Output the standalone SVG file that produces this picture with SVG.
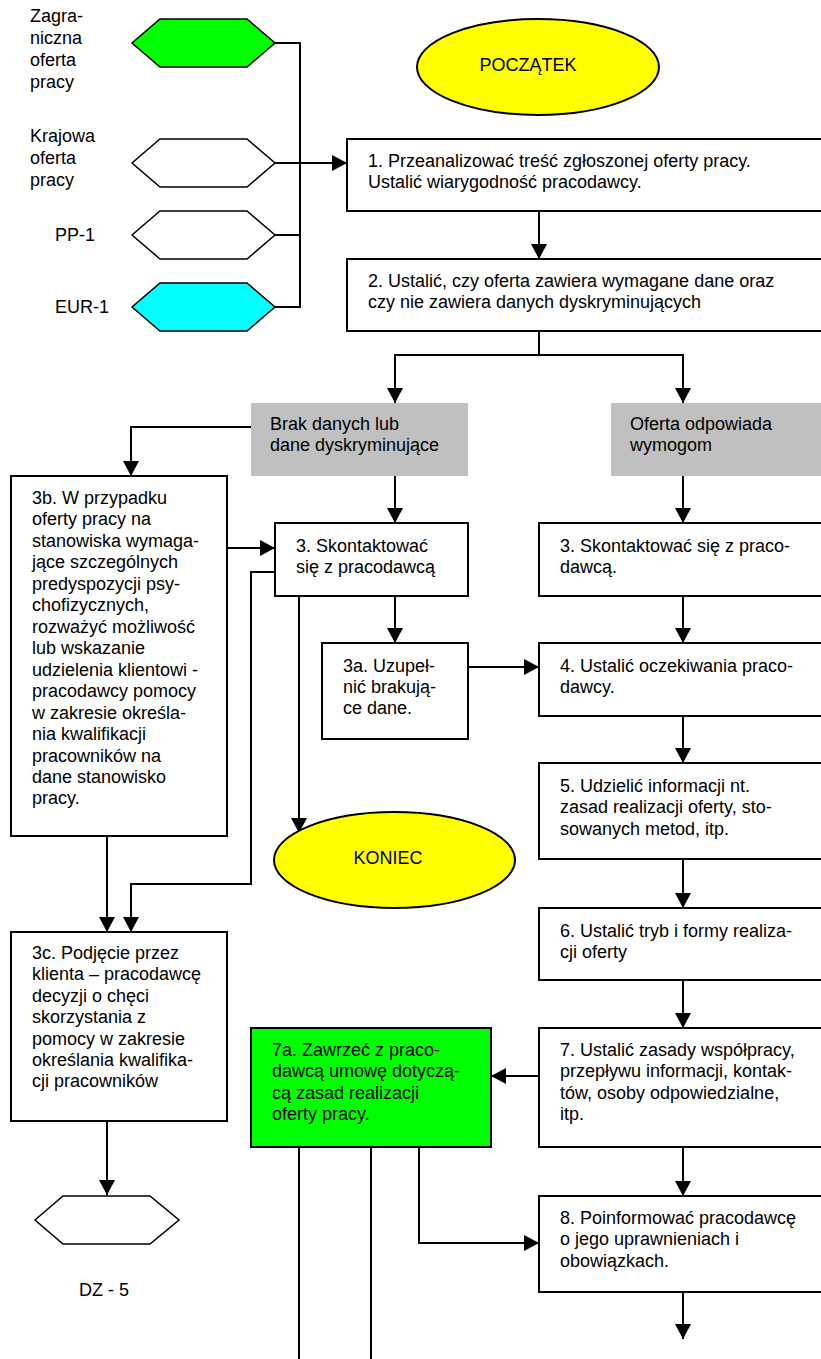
<svg xmlns="http://www.w3.org/2000/svg" width="821" height="1359" viewBox="0 0 821 1359">
<style>
text{font-family:"Liberation Sans",Arial,sans-serif;font-size:18px;fill:#000}
.box{fill:#fff;stroke:#000;stroke-width:2}
.gray{fill:#c0c0c0;stroke:none}
.hex{stroke:#000;stroke-width:1.5}
.ell{fill:#ffff00;stroke:#000;stroke-width:2}
.c{fill:none;stroke:#000;stroke-width:2}
.mid{text-anchor:middle}
</style>
<defs>
<marker id="a" markerUnits="userSpaceOnUse" markerWidth="15" markerHeight="16" refX="15" refY="8" orient="auto">
<path d="M0,0 L15,8 L0,16 z" fill="#000"/>
</marker>
</defs>
<rect width="821" height="1359" fill="#fff"/>

<g id="connectors">
<path class="c" d="M275,43 H300 V307 H275 M275,235 H300"/>
<path class="c" d="M275,163 H347" marker-end="url(#a)"/>
<path class="c" d="M539,211 V259" marker-end="url(#a)"/>
<path class="c" d="M539,331 V355 H395 V403" marker-end="url(#a)"/>
<path class="c" d="M539,355 H683 V403" marker-end="url(#a)"/>
<path class="c" d="M251,427 H131 V476" marker-end="url(#a)"/>
<path class="c" d="M395,476 V523" marker-end="url(#a)"/>
<path class="c" d="M227,548 H275" marker-end="url(#a)"/>
<path class="c" d="M275,572 H251 V884 H131 V932" marker-end="url(#a)"/>
<path class="c" d="M107,836 V932" marker-end="url(#a)"/>
<path class="c" d="M299,596 V833" marker-end="url(#a)"/>
<path class="c" d="M395,596 V643" marker-end="url(#a)"/>
<path class="c" d="M468,667 H539" marker-end="url(#a)"/>
<path class="c" d="M683,476 V523" marker-end="url(#a)"/>
<path class="c" d="M683,596 V643" marker-end="url(#a)"/>
<path class="c" d="M683,716 V763" marker-end="url(#a)"/>
<path class="c" d="M683,859 V908" marker-end="url(#a)"/>
<path class="c" d="M683,980 V1028" marker-end="url(#a)"/>
<path class="c" d="M539,1076 H491" marker-end="url(#a)"/>
<path class="c" d="M683,1147 V1196" marker-end="url(#a)"/>
<path class="c" d="M419,1147 V1243 H539" marker-end="url(#a)"/>
<path class="c" d="M683,1292 V1339" marker-end="url(#a)"/>
<path class="c" d="M299,1147 V1359 M371,1147 V1359"/>
<path class="c" d="M107,1121 V1195" marker-end="url(#a)"/>
</g>

<g id="in-zagraniczna">
<polygon class="hex" fill="#00ff00" points="132,43 160,19 247,19 275,43 247,67 160,67"/>
<text x="30" y="22">Zagra-</text>
<text x="30" y="44">niczna</text>
<text x="30" y="66">oferta</text>
<text x="30" y="88">pracy</text>
</g>
<g id="in-krajowa">
<polygon class="hex" fill="#fff" points="132,163 160,139 247,139 275,163 247,187 160,187"/>
<text x="30" y="142">Krajowa</text>
<text x="30" y="164">oferta</text>
<text x="30" y="186">pracy</text>
</g>
<g id="in-pp1">
<polygon class="hex" fill="#fff" points="132,235 160,211 247,211 275,235 247,259 160,259"/>
<text x="55" y="241">PP-1</text>
</g>
<g id="in-eur1">
<polygon class="hex" fill="#00ffff" points="132,307 160,283 247,283 275,307 247,331 160,331"/>
<text x="55" y="313">EUR-1</text>
</g>

<g id="start">
<ellipse class="ell" cx="538" cy="67" rx="121" ry="48"/>
<text class="mid" x="528" y="71">POCZĄTEK</text>
</g>

<g id="step1">
<rect class="box" x="347" y="139" width="485" height="72"/>
<text x="368" y="167">1. Przeanalizować treść zgłoszonej oferty pracy.</text>
<text x="368" y="188">Ustalić wiarygodność pracodawcy.</text>
</g>
<g id="step2">
<rect class="box" x="347" y="259" width="485" height="72"/>
<text x="368" y="287">2. Ustalić, czy oferta zawiera wymagane dane oraz</text>
<text x="368" y="308">czy nie zawiera danych dyskryminujących</text>
</g>

<g id="brak">
<rect class="gray" x="251" y="403" width="217" height="73"/>
<text x="270" y="430">Brak danych lub</text>
<text x="270" y="451">dane dyskryminujące</text>
</g>
<g id="odpowiada">
<rect class="gray" x="611" y="403" width="220" height="73"/>
<text x="630" y="430">Oferta odpowiada</text>
<text x="630" y="451">wymogom</text>
</g>

<g id="step3b">
<rect class="box" x="11" y="476" width="216" height="360"/>
<text x="32" y="504">3b. W przypadku</text>
<text x="32" y="525">oferty pracy na</text>
<text x="32" y="547">stanowiska wymaga-</text>
<text x="32" y="568">jące szczególnych</text>
<text x="32" y="590">predyspozycji psy-</text>
<text x="32" y="611">chofizycznych,</text>
<text x="32" y="633">rozważyć możliwość</text>
<text x="32" y="654">lub wskazanie</text>
<text x="32" y="676">udzielenia klientowi -</text>
<text x="32" y="697">pracodawcy pomocy</text>
<text x="32" y="719">w zakresie określa-</text>
<text x="32" y="740">nia kwalifikacji</text>
<text x="32" y="762">pracowników na</text>
<text x="32" y="783">dane stanowisko</text>
<text x="32" y="804">pracy.</text>
</g>

<g id="step3-left">
<rect class="box" x="275" y="523" width="193" height="73"/>
<text x="296" y="552">3. Skontaktować</text>
<text x="296" y="573">się z pracodawcą</text>
</g>
<g id="step3a">
<rect class="box" x="322" y="643" width="146" height="96"/>
<text x="343" y="672">3a. Uzupeł-</text>
<text x="343" y="693">nić brakują-</text>
<text x="343" y="714">ce dane.</text>
</g>
<g id="end">
<ellipse class="ell" cx="394.5" cy="860" rx="120.5" ry="48"/>
<text class="mid" x="388" y="864">KONIEC</text>
</g>

<g id="step3c">
<rect class="box" x="11" y="932" width="216" height="189"/>
<text x="32" y="959">3c. Podjęcie przez</text>
<text x="32" y="980">klienta – pracodawcę</text>
<text x="32" y="1002">decyzji o chęci</text>
<text x="32" y="1023">skorzystania z</text>
<text x="32" y="1045">pomocy w zakresie</text>
<text x="32" y="1066">określania kwalifika-</text>
<text x="32" y="1087">cji pracowników</text>
</g>
<g id="dz5">
<polygon class="hex" fill="#fff" points="35,1220 63,1196 150,1196 179,1220 150,1244 63,1244"/>
<text x="79" y="1296">DZ - 5</text>
</g>

<g id="step3-right">
<rect class="box" x="539" y="523" width="293" height="73"/>
<text x="560" y="552">3. Skontaktować się z praco-</text>
<text x="560" y="573">dawcą.</text>
</g>
<g id="step4">
<rect class="box" x="539" y="643" width="293" height="73"/>
<text x="560" y="672">4. Ustalić oczekiwania praco-</text>
<text x="560" y="693">dawcy.</text>
</g>
<g id="step5">
<rect class="box" x="539" y="763" width="293" height="96"/>
<text x="560" y="792">5. Udzielić informacji nt.</text>
<text x="560" y="813">zasad realizacji oferty, sto-</text>
<text x="560" y="835">sowanych metod, itp.</text>
</g>
<g id="step6">
<rect class="box" x="539" y="908" width="293" height="72"/>
<text x="560" y="937">6. Ustalić tryb i formy realiza-</text>
<text x="560" y="958">cji oferty</text>
</g>
<g id="step7">
<rect class="box" x="539" y="1028" width="293" height="119"/>
<text x="560" y="1056">7. Ustalić zasady współpracy,</text>
<text x="560" y="1077">przepływu informacji, kontak-</text>
<text x="560" y="1099">tów, osoby odpowiedzialne,</text>
<text x="560" y="1120">itp.</text>
</g>
<g id="step7a">
<rect class="box" x="251" y="1028" width="240" height="119" fill="#00ff00" style="fill:#00ff00"/>
<text x="272" y="1056">7a. Zawrzeć z praco-</text>
<text x="272" y="1077">dawcą umowę dotyczą-</text>
<text x="272" y="1099">cą zasad realizacji</text>
<text x="272" y="1120">oferty pracy.</text>
</g>
<g id="step8">
<rect class="box" x="539" y="1196" width="293" height="96"/>
<text x="560" y="1224">8. Poinformować pracodawcę</text>
<text x="560" y="1245">o jego uprawnieniach i</text>
<text x="560" y="1267">obowiązkach.</text>
</g>
</svg>
